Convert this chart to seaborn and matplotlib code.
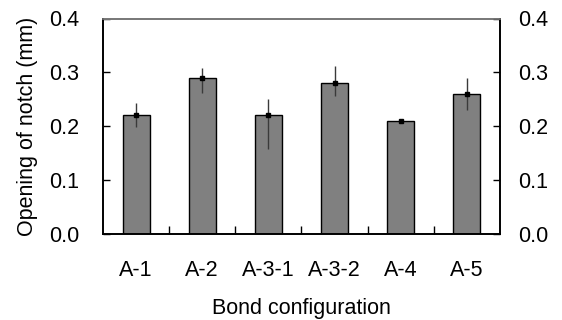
import matplotlib
matplotlib.use("Agg")
import matplotlib.pyplot as plt
import seaborn as sns
import pandas as pd
import numpy as np

categories = ["A-1", "A-2", "A-3-1", "A-3-2", "A-4", "A-5"]
values = [0.221, 0.289, 0.221, 0.280, 0.210, 0.260]
err_upper = [0.023, 0.020, 0.029, 0.032, 0.002, 0.029]
err_lower = [0.022, 0.027, 0.064, 0.023, 0.002, 0.029]
y_ticks = [0.0, 0.1, 0.2, 0.3, 0.4]

sns.set_theme(style="white")
plt.rcParams['font.family'] = ['Liberation Sans', 'DejaVu Sans']
FS = 15.5

df = pd.DataFrame({"cfg": categories, "val": values})

fig = plt.figure(figsize=(5.62, 3.2), dpi=100)
ax = fig.add_axes([103/562, 1-234/320, 397/562, (234-18.5)/320])

sns.barplot(data=df, x="cfg", y="val", color="#808080", saturation=1,
            edgecolor="black", linewidth=1.0, width=0.41, errorbar=None, ax=ax)
xs = np.arange(len(categories))
ax.errorbar(xs, values, yerr=[err_lower, err_upper], fmt="s", ms=2.5,
            color="black", ecolor="#3a3a3a", elinewidth=1.0, capsize=0)

ax.set_xlim(-0.5, len(categories) - 0.5)
ax.set_ylim(0, 0.4)
ax.set_yticks(y_ticks)
ax.set_yticklabels([f"{t:.1f}" for t in y_ticks])
ax.set_xticks(xs)
ax.set_xticklabels(categories)
ax.tick_params(axis="x", length=0, labelsize=FS, pad=19, colors="black")
ax.tick_params(axis="y", direction="in", length=5, width=1, labelsize=FS,
               left=True, right=False, pad=17, colors="black")
ax.set_xticks(np.arange(0.5, len(categories) - 1, 1.0), minor=True)
ax.tick_params(axis="x", which="minor", direction="in", length=6, width=1,
               bottom=True, color="black")

ax2 = ax.twinx()
ax2.set_ylim(0, 0.4)
ax2.set_yticks(y_ticks)
ax2.set_yticklabels([f"{t:.1f}" for t in y_ticks])
ax2.tick_params(axis="y", direction="in", length=5, width=1, labelsize=FS,
                right=True, pad=13, colors="black")
ax2.grid(False)

for a in (ax, ax2):
    for s in ["left", "right", "bottom"]:
        a.spines[s].set_color("black")
        a.spines[s].set_linewidth(1.2)
    a.spines["top"].set_color("#777777")
    a.spines["top"].set_linewidth(1.2)

ax.set_xlabel("Bond configuration", fontsize=FS, labelpad=12, color="black")
ax.set_ylabel("Opening of notch (mm)", fontsize=FS, labelpad=8, color="black")

fig.savefig("out.png", dpi=100)
